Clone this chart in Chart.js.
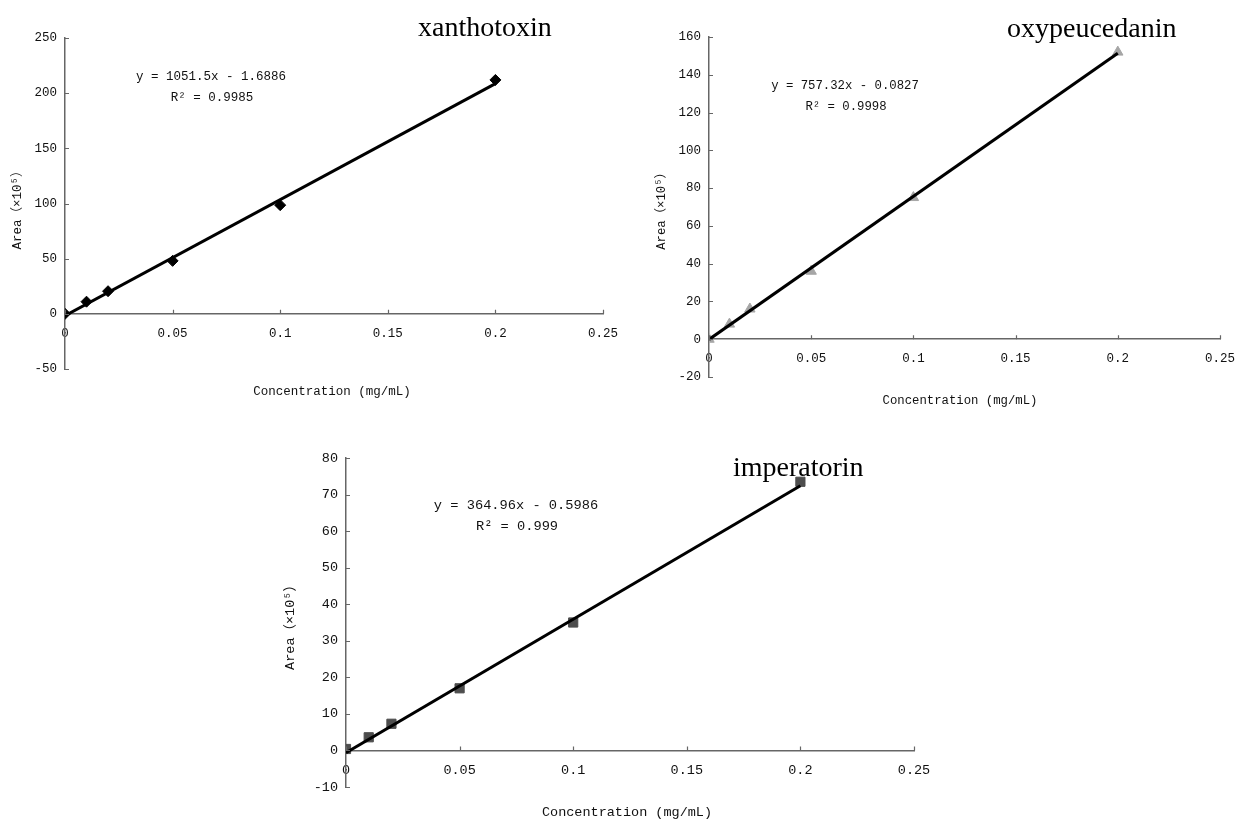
<!DOCTYPE html>
<html>
<head>
<meta charset="utf-8">
<script src="https://cdn.jsdelivr.net/npm/chart.js@4.4.1/dist/chart.umd.min.js"></script>
<style>
  body { margin: 0; background: #fff; }
  canvas { position: absolute; }
</style>
</head>
<body>
<canvas id="c1" width="620" height="410" style="left:0;top:0"></canvas>
<canvas id="c2" width="615" height="410" style="left:620px;top:0"></canvas>
<canvas id="c3" width="660" height="400" style="left:280px;top:420px"></canvas>
<script>
// concentrations (mg/mL)
const concentrations = [0, 0.01, 0.02, 0.05, 0.1, 0.2];
// peak areas (x10^5)
const xanthotoxinArea = [0, 11, 20.5, 48, 98.5, 212];
const oxypeucedaninArea = [0, 8, 16, 36, 75, 152];
const imperatorinArea = [0.4, 3.6, 7.3, 17, 35, 73.5];
// trendline end points
const trendX = [0, 0.2];
const xanthotoxinTrend = [-1.7, 208.6];
const oxypeucedaninTrend = [-0.1, 151.4];
const imperatorinTrend = [-0.6, 72.4];

const xTickLabels = ['0', '0.05', '0.1', '0.15', '0.2', '0.25'];
const xanthotoxinYTicks = ['-50', '0', '50', '100', '150', '200', '250'];
const oxypeucedaninYTicks = ['-20', '0', '20', '40', '60', '80', '100', '120', '140', '160'];
const imperatorinYTicks = ['-10', '0', '10', '20', '30', '40', '50', '60', '70', '80'];

const MONO = '"Liberation Mono", "DejaVu Sans Mono", "Noto Sans CJK SC", monospace';
const SERIF = '"Liberation Serif", "DejaVu Serif", serif';
const AXIS_COLOR = '#666';

function pairs(xs, ys) {
    return xs.map((x, i) => ({ x: x, y: ys[i] }));
}

// draws the inward tick marks and the free text of each panel
const textLayer = {
    id: 'textLayer',
    afterDraw(chart, args, opts) {
        const ctx = chart.ctx;
        const xs = chart.scales.x, ys = chart.scales.y;
        const y0 = ys.getPixelForValue(0);
        ctx.save();
        ctx.strokeStyle = AXIS_COLOR;
        ctx.lineWidth = 1.2;
        ctx.beginPath();
        xs.ticks.forEach(t => {
            const px = Math.round(xs.getPixelForValue(t.value)) + 0.5;
            ctx.moveTo(px, y0);
            ctx.lineTo(px, y0 - 4);
        });
        ys.ticks.forEach(t => {
            const py = Math.round(ys.getPixelForValue(t.value)) + 0.5;
            ctx.moveTo(xs.left, py);
            ctx.lineTo(xs.left + 4, py);
        });
        ctx.stroke();

        (opts.items || []).forEach(it => {
            ctx.save();
            ctx.fillStyle = it.color || '#111';
            ctx.font = it.font;
            ctx.textAlign = it.align || 'center';
            ctx.textBaseline = it.baseline || 'middle';
            ctx.translate(it.x, it.y);
            if (it.rotate) ctx.rotate(it.rotate);
            ctx.fillText(it.text, 0, 0);
            ctx.restore();
        });
        ctx.restore();
    }
};

function makePanel(id, cfg) {
    const ctx = document.getElementById(id).getContext('2d');
    return new Chart(ctx, {
        type: 'scatter',
        data: {
            datasets: [{
                type: 'line',
                data: pairs(trendX, cfg.trend),
                borderColor: '#000',
                borderWidth: 3,
                pointRadius: 0,
                fill: false,
                order: 0
            }, {
                data: pairs(concentrations, cfg.area),
                pointStyle: cfg.marker,
                pointRadius: cfg.markerSize,
                backgroundColor: cfg.markerColor,
                borderColor: cfg.markerColor,
                borderWidth: 1,
                order: 1
            }]
        },
        options: {
            responsive: false,
            animation: false,
            devicePixelRatio: 1,
            layout: { padding: cfg.padding },
            plugins: {
                legend: { display: false },
                tooltip: { enabled: false },
                textLayer: { items: cfg.texts }
            },
            scales: {
                x: {
                    type: 'linear',
                    position: { y: 0 },
                    min: 0,
                    max: 0.25,
                    afterFit: s => { s.paddingLeft = 0; s.paddingRight = 0; },
                    ticks: {
                        stepSize: 0.05,
                        color: '#111',
                        font: { family: MONO, size: cfg.tickSize },
                        padding: 12,
                        maxRotation: 0,
                        callback: (v, i) => xTickLabels[i]
                    },
                    grid: { display: false, drawTicks: false },
                    border: { color: AXIS_COLOR, width: 1.5 }
                },
                y: {
                    min: cfg.yMin,
                    max: cfg.yMax,
                    afterFit: s => { s.width = cfg.yWidth; },
                    ticks: {
                        stepSize: cfg.yStep,
                        color: '#111',
                        font: { family: MONO, size: cfg.tickSize },
                        padding: 8,
                        callback: (v, i) => cfg.yTicks[i]
                    },
                    grid: { display: false, drawTicks: false },
                    border: { color: AXIS_COLOR, width: 1.5 }
                }
            }
        },
        plugins: [textLayer]
    });
}

function panelTexts(name, nameX, nameY, eq, r2, eqX, eqY, eqSize, conX, conY, areaX, areaY, labSize) {
    return [
        { text: name, x: nameX, y: nameY, font: '28px ' + SERIF, align: 'left', baseline: 'alphabetic', color: '#000' },
        { text: eq, x: eqX, y: eqY, font: eqSize + 'px ' + MONO },
        { text: r2, x: eqX + 1, y: eqY + 21, font: eqSize + 'px ' + MONO },
        { text: 'Concentration (mg/mL)', x: conX, y: conY, font: labSize + 'px ' + MONO },
        { text: 'Area（×10⁵）', x: areaX, y: areaY, font: labSize + 'px ' + MONO, rotate: -Math.PI / 2 }
    ];
}

makePanel('c1', {
    area: xanthotoxinArea, trend: xanthotoxinTrend,
    marker: 'rectRot', markerSize: 5.5, markerColor: '#000',
    yMin: -50, yMax: 250, yStep: 50, yTicks: xanthotoxinYTicks,
    yWidth: 65, tickSize: 12.5,
    padding: { left: 0, top: 38, right: 17, bottom: 41 },
    texts: panelTexts('xanthotoxin', 418, 36, 'y = 1051.5x - 1.6886', 'R² = 0.9985',
        211, 77, 12.5, 332, 392, 18, 207, 12.5)
});

makePanel('c2', {
    area: oxypeucedaninArea, trend: oxypeucedaninTrend,
    marker: 'triangle', markerSize: 6, markerColor: '#a6a6a6',
    yMin: -20, yMax: 160, yStep: 20, yTicks: oxypeucedaninYTicks,
    yWidth: 89, tickSize: 12.5,
    padding: { left: 0, top: 37, right: 15, bottom: 33 },
    texts: panelTexts('oxypeucedanin', 387, 37, 'y = 757.32x - 0.0827', 'R² = 0.9998',
        225, 86, 12.3, 340, 401, 42, 208, 12.3)
});

makePanel('c3', {
    area: imperatorinArea, trend: imperatorinTrend,
    marker: 'rect', markerSize: 6.5, markerColor: '#4d4d4d',
    yMin: -10, yMax: 80, yStep: 10, yTicks: imperatorinYTicks,
    yWidth: 66, tickSize: 13.5,
    padding: { left: 0, top: 38, right: 26, bottom: 33 },
    texts: panelTexts('imperatorin', 453, 56, 'y = 364.96x - 0.5986', 'R² = 0.999',
        236, 85, 13.7, 347, 392, 10, 204, 13.5)
});
</script>
</body>
</html>
